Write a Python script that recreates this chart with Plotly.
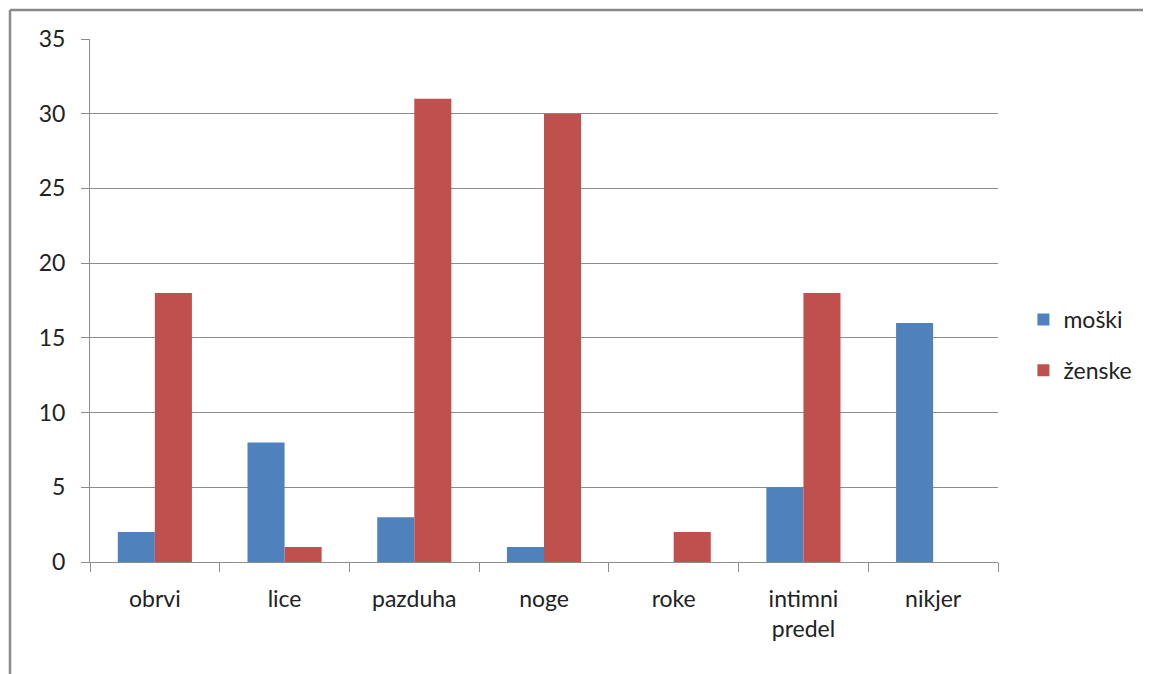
import plotly.graph_objects as go

categories = ["obrvi", "lice", "pazduha", "noge", "roke", "intimni<br>predel", "nikjer"]
moski = [2, 8, 3, 1, 0, 5, 16]
zenske = [18, 1, 31, 30, 2, 18, 0]
y_ticks = [0, 5, 10, 15, 20, 25, 30, 35]

FONT = "Lato"
GRID = "#8c8c8c"

fig = go.Figure()
fig.add_trace(go.Bar(name="moški", x=categories, y=moski, marker_color="#4F81BD",
                     marker_line_width=0, legendgroup="m"))
fig.add_trace(go.Bar(name="ženske", x=categories, y=zenske, marker_color="#C0504D",
                     marker_line_width=0, legendgroup="z"))

fig.update_layout(
    width=1143, height=666,
    margin=dict(l=82, r=153, t=31, b=112),
    paper_bgcolor="white", plot_bgcolor="white",
    barmode="group", bargap=0.4286, bargroupgap=0,
    font=dict(family=FONT, size=23, color="#222222"),
    showlegend=True,
    legend=dict(x=1.028, y=0.415, xanchor="left", yanchor="middle",
                font=dict(size=23, family=FONT), tracegroupgap=18,
                itemwidth=30),
    xaxis=dict(type="category", showline=True, linecolor=GRID, linewidth=1,
               ticks="outside", ticklen=9, tickcolor=GRID, tickson="boundaries",
               showgrid=False, ticklabelstandoff=16),
    yaxis=dict(range=[0, 35], tickvals=y_ticks, showline=True, linecolor=GRID,
               linewidth=1, ticks="outside", ticklen=8, tickcolor=GRID,
               showgrid=True, gridcolor=GRID, gridwidth=1, zeroline=False,
               ticklabelstandoff=11),
    shapes=[
        dict(type="line", xref="paper", yref="paper", x0=-0.0881, x1=1.3, y0=1.0554, y1=1.0554,
             line=dict(color="#8a8a8a", width=2.5)),
        dict(type="line", xref="paper", yref="paper", x0=-0.0881, x1=-0.0881, y0=-0.4, y1=1.0554,
             line=dict(color="#8a8a8a", width=2.5)),
    ],
)

fig.write_html("out.html")
